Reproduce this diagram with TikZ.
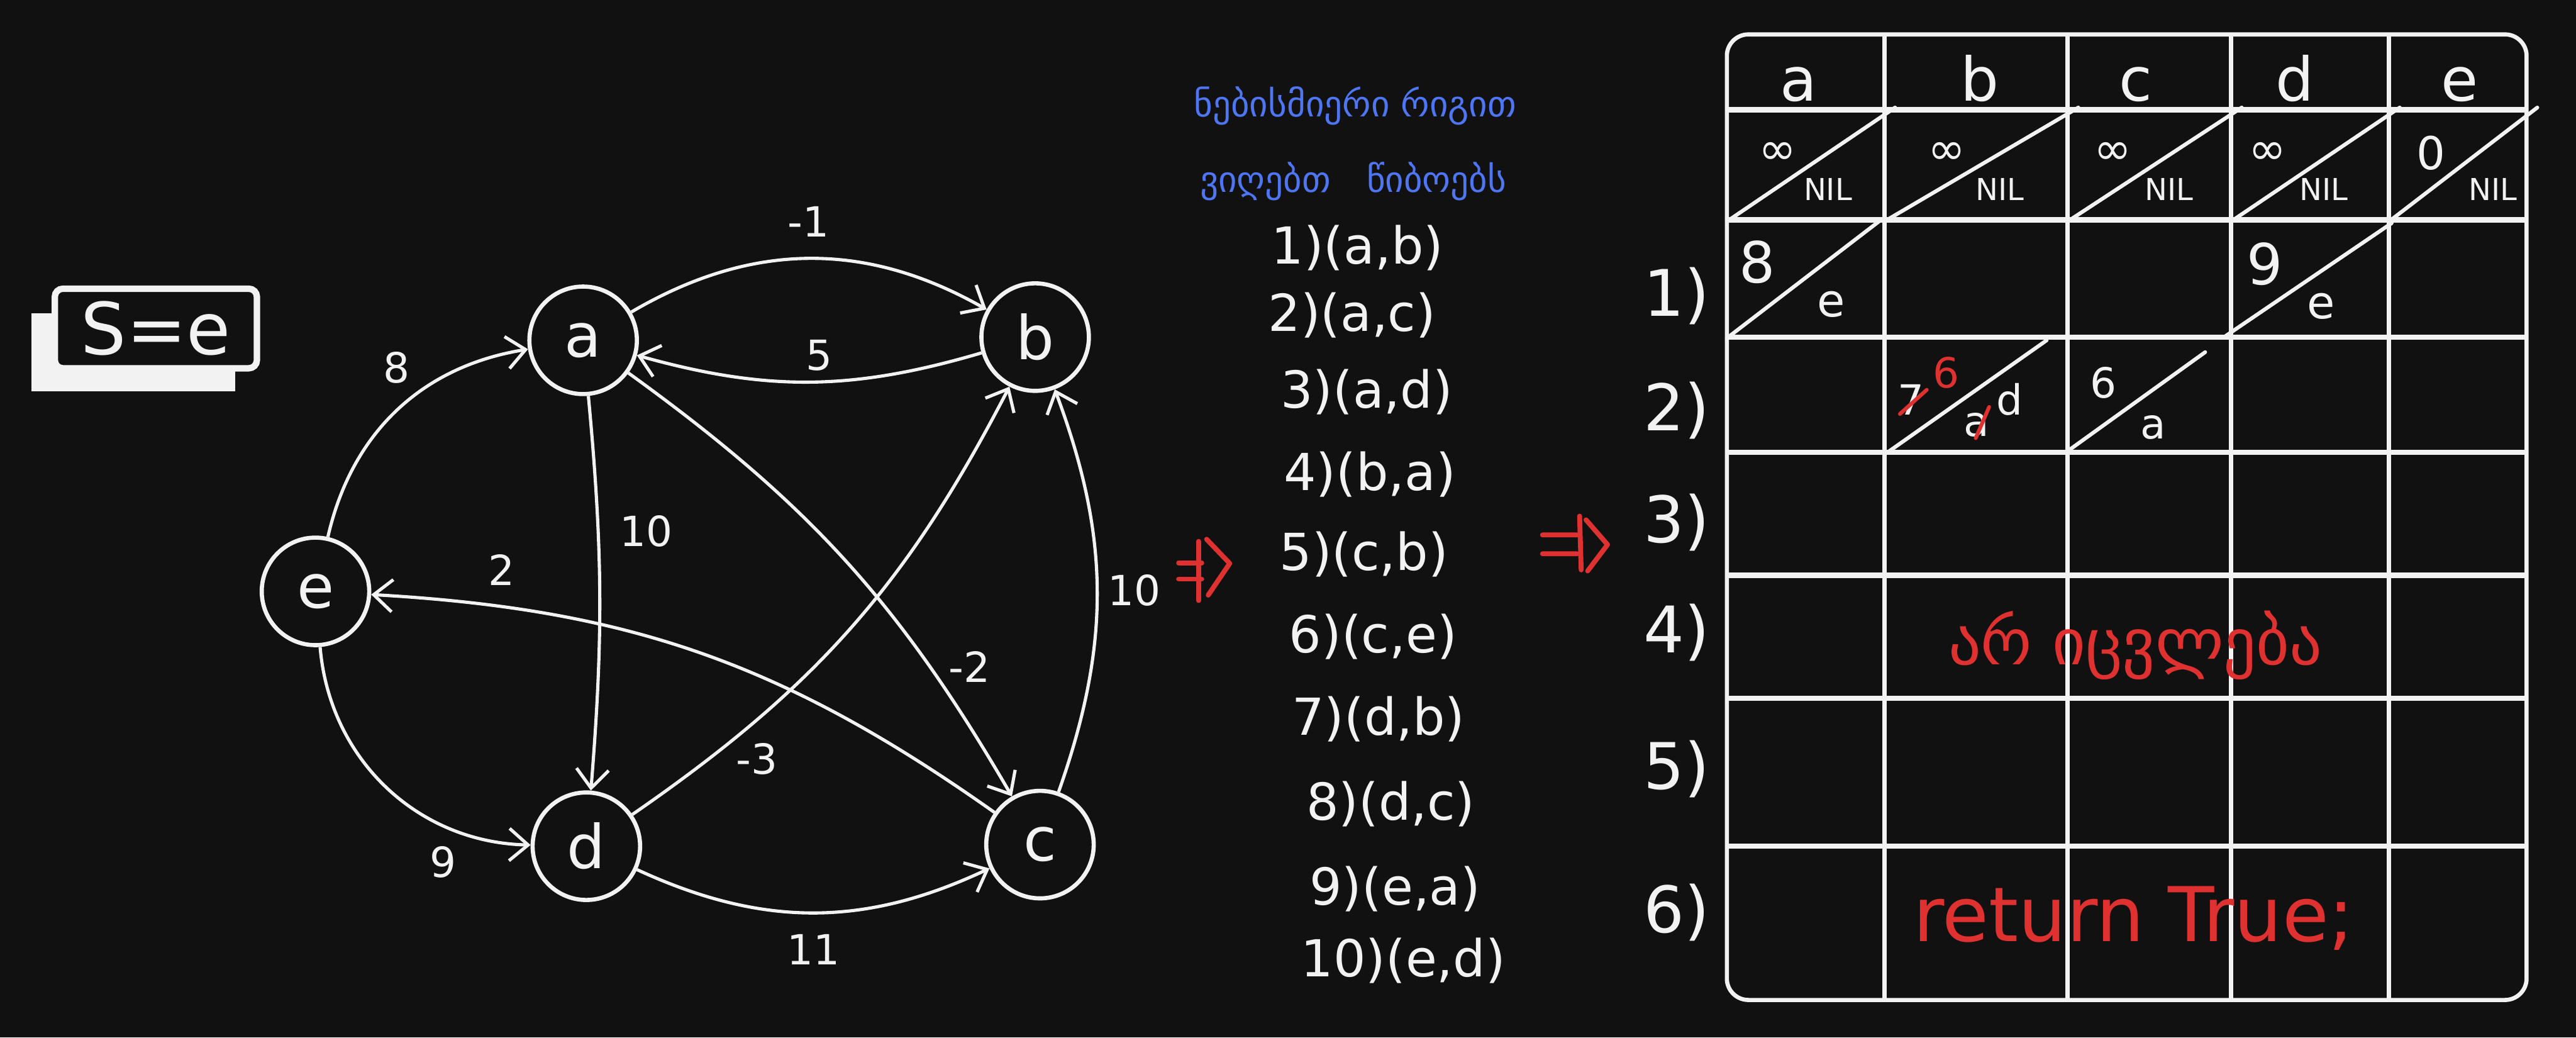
\documentclass[tikz,border=0pt]{standalone}
\usepackage{fontspec}
\setmainfont{DejaVu Sans}
\usetikzlibrary{arrows.meta,positioning}
\definecolor{boardBg}{HTML}{111111}
\definecolor{chalk}{HTML}{F2F2F2}
\definecolor{inkBlue}{HTML}{4F76F2}
\definecolor{inkRed}{HTML}{E03131}
\tikzset{
  vert/.style={circle, draw=chalk, line width=2.2pt, minimum size=2cm, inner sep=0pt,
    text=chalk, font=\fontsize{32}{36}\selectfont},
  arc/.style={draw=chalk, line width=1.7pt, -{Straight Barb[length=3.5mm,width=6mm]}},
  wt/.style={text=chalk, font=\fontsize{22}{26}\selectfont, inner sep=2pt},
  item/.style={text=chalk, font=\fontsize{27}{30}\selectfont, anchor=west, inner sep=0pt},
  hline/.style={draw=chalk, line width=2.8pt},
  vline/.style={draw=chalk, line width=2.2pt},
  slash/.style={draw=chalk, line width=2pt, line cap=round},
  head/.style={text=chalk, font=\fontsize{32}{36}\selectfont, anchor=base},
  cellbig/.style={text=chalk, font=\fontsize{24}{28}\selectfont, inner sep=0pt},
  cellsmall/.style={text=chalk, font=\fontsize{16}{18}\selectfont, inner sep=0pt},
  rowlbl/.style={text=chalk, font=\fontsize{34}{38}\selectfont},
  bluetxt/.style={text=inkBlue, font=\fontsize{19}{22}\selectfont, anchor=base west, inner sep=0pt},
  redink/.style={draw=inkRed, line width=2.6pt, line cap=round, line join=round},
  redtxt/.style={text=inkRed, font=\fontsize{34}{40}\selectfont},
}

\begin{document}
\begin{tikzpicture}
  \useasboundingbox (0,0) rectangle (47.93,-19.30);
  \fill[boardBg] (0,0) rectangle (47.93,-19.30);

  % source box
  \fill[chalk] (0.58,-5.83) rectangle (4.38,-7.28);
  \node[draw=chalk, fill=boardBg, line width=3.4pt, rounded corners=1.5mm,
    minimum width=3.76cm, minimum height=1.48cm, text=chalk,
    font=\fontsize{38}{42}\selectfont] (src) at (2.90,-6.11) {S=e};

  % graph
  \node[vert] (a) at (10.85,-6.33) {a};
  \node[vert] (b) at (19.26,-6.27) {b};
  \node[vert] (e) at (5.87,-11.00) {e};
  \node[vert] (d) at (10.91,-15.74) {d};
  \node[vert] (c) at (19.35,-15.71) {c};

  \draw[arc] (a) to[bend left=30] node[wt, above=3mm] (wab) {-1} (b);
  \draw[arc] (b) to[bend left=16] node[wt, pos=0.47, above=1mm] (wba) {5} (a);
  \draw[arc] (a) to[bend left=5] node[wt, pos=0.33, right=3mm] (wad) {10} (d);
  \draw[arc] (a) to[bend left=12] node[wt, pos=0.75, right=2.5mm] (wac) {-2} (c);
  \draw[arc] (d) to[bend right=14] node[wt, pos=0.15, right=4mm] (wdb) {-3} (b);
  \draw[arc] (c) to[bend right=16] node[wt, pos=0.82, above=3mm] (wce) {2} (e);
  \draw[arc] (c) to[bend right=20] node[wt, right=1mm] (wcb) {10} (b);
  \draw[arc] (d) to[bend right=25] node[wt, below=3mm] (wdc) {11} (c);
  \draw[arc] (e) to[bend left=34] node[wt, pos=0.6, above left=1mm] (wea) {8} (a);
  \draw[arc] (e) to[bend right=42] node[wt, pos=0.72, below=3mm] (wed) {9} (d);

  % edge order
  \node[bluetxt] (note1) at (22.21,-2.17) {ნებისმიერი რიგით};
  \node[bluetxt] (note2) at (22.32,-3.58) {ვიღებთ\quad წიბოებს};
  \foreach \txt/\x/\y [count=\i] in {{1)(a,b)}/23.65/4.61, {2)(a,c)}/23.59/5.86,
      {3)(a,d)}/23.82/7.29, {4)(b,a)}/23.88/8.82, {5)(c,b)}/23.80/10.31,
      {6)(c,e)}/23.98/11.84, {7)(d,b)}/24.03/13.37, {8)(d,c)}/24.30/14.95,
      {9)(e,a)}/24.36/16.53, {10)(e,d)}/24.20/17.87}
    \node[item] (edge\i) at (\x,-\y) {\txt};

  \draw[redink] (21.93,-10.47) -- (22.36,-10.47) (21.93,-10.77) -- (22.36,-10.77)
    (22.30,-10.07) -- (22.30,-11.17);
  \draw[redink] (22.45,-10.03) -- (22.88,-10.48) -- (22.48,-11.07);
  \draw[redink] (28.70,-9.95) -- (29.34,-9.95) (28.70,-10.30) -- (29.34,-10.30)
    (29.39,-9.60) -- (29.42,-10.60);
  \draw[redink] (29.51,-9.67) -- (29.91,-10.13) -- (29.54,-10.62);

  % table
  \draw[vline, rounded corners=4mm] (32.13,-0.64) rectangle (47.01,-18.60);
  \foreach \x in {35.06,38.47,41.51,44.45}
    \draw[vline] (\x,-0.64) -- (\x,-18.60);
  \foreach \y in {2.04,4.09,6.27,8.41,10.70,12.99,15.74}
    \draw[hline] (32.13,-\y) -- (47.01,-\y);

  \foreach \l/\x in {a/33.47,b/36.84,c/39.74,d/42.70,e/45.76}
    \node[head] (h\l) at (\x,-1.88) {\l};

  \foreach \l/\lx/\rx/\vx/\nx/\val in {a/32.13/35.06/33.07/34.01/∞,
      b/35.06/38.47/36.22/37.21/∞, c/38.47/41.51/39.31/40.36/∞,
      d/41.51/44.45/42.19/43.24/∞, e/44.45/47.01/45.23/46.38/0} {
    \draw[slash] (\lx,-4.12) -- (\rx+0.2,-2.0);
    \node[cellbig] (v0\l) at (\vx,-2.85) {\val};
    \node[cellsmall] (p0\l) at (\nx,-3.52) {NIL};
  }

  \draw[slash] (32.13,-6.29) -- (35.01,-4.08);
  \node[cellbig, font=\fontsize{30}{34}\selectfont] (v1a) at (32.70,-4.87) {8};
  \node[cellbig] (p1a) at (34.07,-5.66) {e};
  \draw[slash] (41.41,-6.25) -- (44.50,-4.15);
  \node[cellbig, font=\fontsize{30}{34}\selectfont] (v1d) at (42.14,-4.91) {9};
  \node[cellbig] (p1d) at (43.19,-5.70) {e};

  \draw[slash] (35.14,-8.40) -- (38.08,-6.33);
  \node[cellbig, font=\fontsize{22}{26}\selectfont] (v2b) at (35.56,-7.43) {7};
  \draw[redink, line width=2pt] (35.35,-7.70) -- (35.85,-7.25);
  \node[cellbig, text=inkRed, font=\fontsize{22}{26}\selectfont] (n2b) at (36.21,-6.93) {6};
  \node[cellbig, font=\fontsize{22}{26}\selectfont] (p2b) at (36.78,-7.90) {a};
  \draw[redink, line width=2pt] (36.76,-8.15) -- (37.01,-7.57);
  \node[cellbig, font=\fontsize{22}{26}\selectfont] (q2b) at (37.39,-7.43) {d};
  \draw[slash] (38.50,-8.37) -- (41.03,-6.55);
  \node[cellbig, font=\fontsize{22}{26}\selectfont] (v2c) at (39.13,-7.12) {6};
  \node[cellbig, font=\fontsize{22}{26}\selectfont] (p2c) at (40.06,-7.95) {a};

  \foreach \r/\y in {1/5.50,2/7.64,3/9.72,4/11.77,5/14.31,6/16.97}
    \node[rowlbl] (row\r) at (31.20,-\y) {\r)};

  \node[redtxt] (nochange) at (39.73,-12.00) {არ იცვლება};
  \node[redtxt, font=\fontsize{40}{46}\selectfont] (ret) at (39.70,-17.08) {return True;};
\end{tikzpicture}
\end{document}
